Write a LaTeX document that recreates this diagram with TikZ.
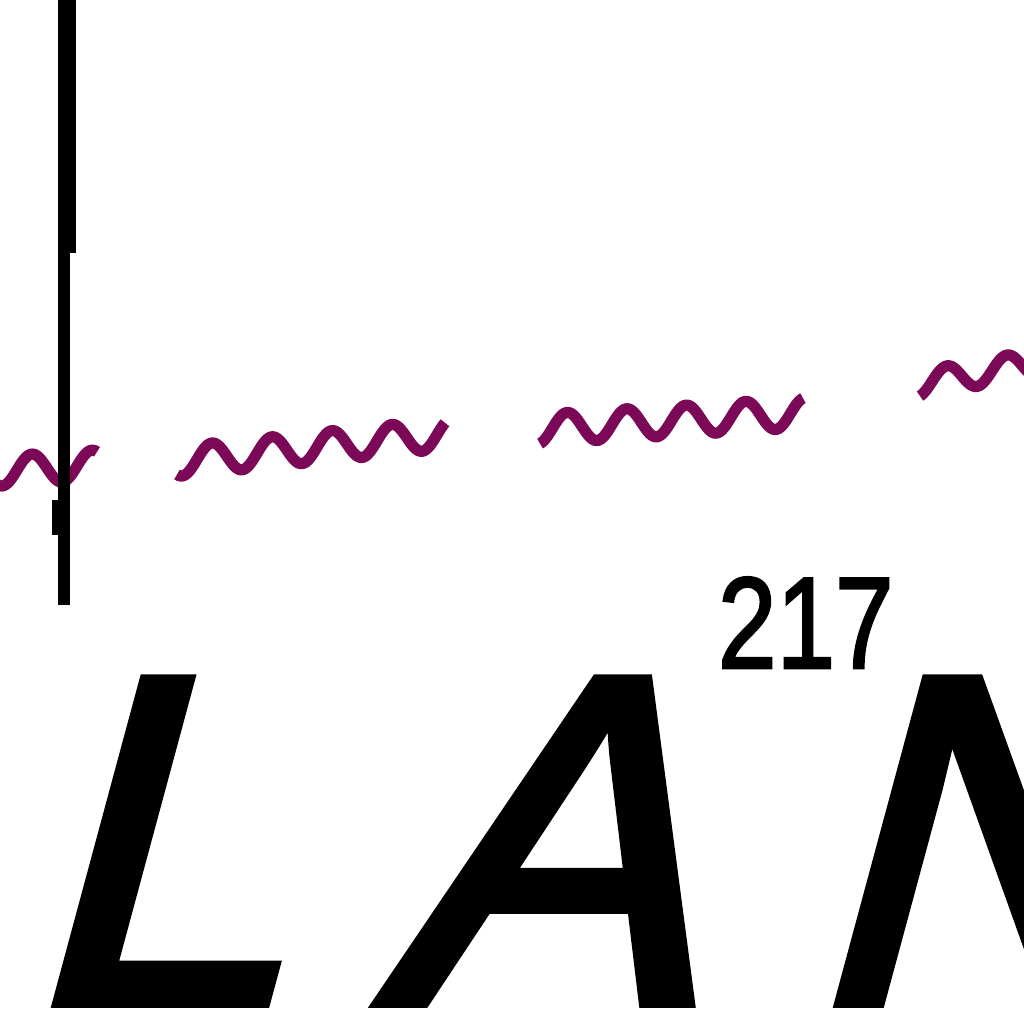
\documentclass[tikz,border=0pt]{standalone}
\usepackage{fontspec}
\newfontfamily\lanfont[FakeSlant=0.27,FakeBold=2.5]{Liberation Sans}
\newfontfamily\supfont[FakeBold=2]{Liberation Sans}
\definecolor{wavepurple}{RGB}{123,9,88}
\tikzset{
  wave/.style={draw=wavepurple, line width=1.12mm, line cap=butt, line join=round},
  bigletter/.style={inner sep=0pt, outer sep=0pt, anchor=base west,
    font=\lanfont\fontsize{133.1pt}{140pt}\selectfont},
  supnum/.style={inner sep=0pt, outer sep=0pt, anchor=base west, xscale=0.81,
    font=\supfont\fontsize{37pt}{40pt}\selectfont},
  rule/.style={draw=black, line cap=butt}
}
\begin{document}
\begin{tikzpicture}[x=0.1mm, y=-0.1mm]
\useasboundingbox (0,0) rectangle (1024,1024);
\fill[white] (0,0) rectangle (1024,1024);
\clip (0,0) rectangle (1024,1024);
% wavy line, in four pieces
\draw[wave] plot[domain=-10:97, samples=60, smooth]
  (\x, {468-0.065*(\x-48)+15*cos(6*(\x-62))});
\draw[wave] plot[domain=177:445, samples=140, smooth]
  (\x, {456.5-0.103*(\x-226)+15*cos(6*(\x-242))});
\draw[wave] plot[domain=540:803, samples=140, smooth]
  (\x, {426.5-0.062*(\x-582)+15*cos(6.05*(\x-597))});
\draw[wave] plot[domain=920:1040, samples=70, smooth]
  (\x, {376.5-0.18*(\x-960)+13*cos(6*(\x-977))});
% vertical rule
\coordinate (ruletop) at (67,0);
\coordinate (rulestep) at (67,253);
\coordinate (rulestepb) at (64,253);
\coordinate (rulebot) at (64,605);
\draw[rule, line width=1.8mm] (ruletop) -- (rulestep);
\draw[rule, line width=1.2mm] (rulestepb) -- (rulebot);
\fill[black] (52,500) rectangle (58,535);
% label
\node[bigletter] (lL) at (20,1002) {L};
\node[bigletter] (lA) at (378,1002) {A};
\node[supnum] (sup) at (718,668) {217};
\node[bigletter] (lN) at (802,1002) {N};
\end{tikzpicture}
\end{document}
